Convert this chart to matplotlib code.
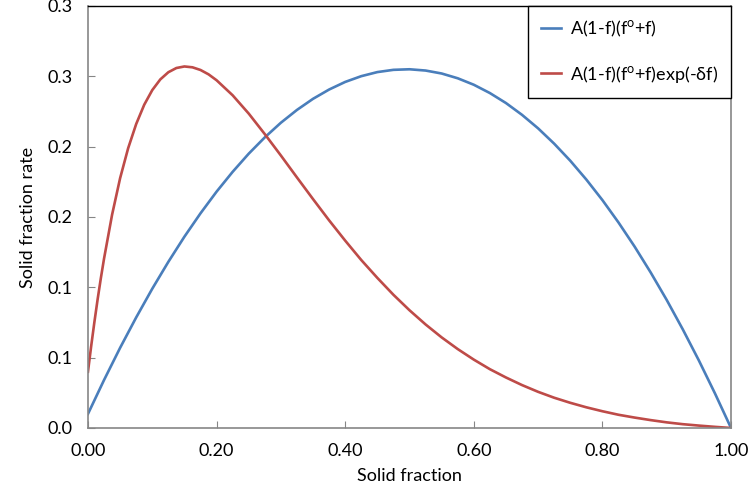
import matplotlib
matplotlib.use("Agg")
import matplotlib.pyplot as plt

# valores
fraccion_azul = [0.000, 0.025, 0.050, 0.075, 0.100, 0.125, 0.150, 0.175, 0.200, 0.225,
                 0.250, 0.275, 0.300, 0.325, 0.350, 0.375, 0.400, 0.425, 0.450, 0.475,
                 0.500, 0.525, 0.550, 0.575, 0.600, 0.625, 0.650, 0.675, 0.700, 0.725,
                 0.750, 0.775, 0.800, 0.825, 0.850, 0.875, 0.900, 0.925, 0.950, 0.975,
                 1.000]
tasa_azul = [0.0100, 0.0341, 0.0570, 0.0786, 0.0990, 0.1181, 0.1360, 0.1526, 0.1680, 0.1821,
             0.1950, 0.2066, 0.2170, 0.2261, 0.2340, 0.2406, 0.2460, 0.2501, 0.2530, 0.2546,
             0.2550, 0.2541, 0.2520, 0.2486, 0.2440, 0.2381, 0.2310, 0.2226, 0.2130, 0.2021,
             0.1900, 0.1766, 0.1620, 0.1461, 0.1290, 0.1106, 0.0910, 0.0701, 0.0480, 0.0246,
             0.0000]

fraccion_roja = [0.000, 0.005, 0.010, 0.015, 0.020, 0.025, 0.0375, 0.050, 0.0625, 0.075,
                 0.0875, 0.100, 0.1125, 0.125, 0.1375, 0.150, 0.1625, 0.175, 0.1875, 0.200,
                 0.225, 0.250, 0.275, 0.300, 0.325, 0.350, 0.375, 0.400, 0.425, 0.450,
                 0.475, 0.500, 0.525, 0.550, 0.575, 0.600, 0.625, 0.650, 0.675, 0.700,
                 0.725, 0.750, 0.775, 0.800, 0.825, 0.850, 0.875, 0.900, 0.925, 0.950,
                 0.975, 1.000]
tasa_roja = [0.0400, 0.0582, 0.0753, 0.0914, 0.1064, 0.1204, 0.1516, 0.1776, 0.1989, 0.2161,
             0.2298, 0.2402, 0.2478, 0.2529, 0.2559, 0.2570, 0.2564, 0.2545, 0.2514, 0.2472,
             0.2365, 0.2235, 0.2089, 0.1937, 0.1781, 0.1627, 0.1476, 0.1332, 0.1194, 0.1067,
             0.0947, 0.0837, 0.0736, 0.0644, 0.0561, 0.0486, 0.0418, 0.0359, 0.0305, 0.0257,
             0.0215, 0.0179, 0.0147, 0.0119, 0.0094, 0.0074, 0.0056, 0.0040, 0.0027, 0.0017,
             0.0008, 0.0000]

etiquetas_series = [r"A(1-f)(f$^{\mathrm{o}}$+f)", r"A(1-f)(f$^{\mathrm{o}}$+f)exp(-δf)"]

ticks_x = [0.0, 0.2, 0.4, 0.6, 0.8, 1.0]
etiquetas_x = ["0.00", "0.20", "0.40", "0.60", "0.80", "1.00"]
ticks_y = [0.0, 0.05, 0.10, 0.15, 0.20, 0.25, 0.30]
etiquetas_y = ["0.0", "0.1", "0.1", "0.2", "0.2", "0.3", "0.3"]

plt.rcParams['font.family'] = ['Lato', 'DejaVu Sans']
plt.rcParams['mathtext.fontset'] = 'custom'
plt.rcParams['mathtext.rm'] = 'Lato'

gris = '#868686'
azul = '#4A7EBB'
rojo = '#BE4B48'

fig = plt.figure(figsize=(7.48, 4.98), dpi=100)
ax = fig.add_axes([0.1176, 0.1406, 0.8597, 0.8474])

ax.plot(fraccion_azul, tasa_azul, color=azul, lw=1.9, label=etiquetas_series[0])
ax.plot(fraccion_roja, tasa_roja, color=rojo, lw=1.9, label=etiquetas_series[1])

ax.set_xlim(0, 1)
ax.set_ylim(0, 0.3)
ax.set_xticks(ticks_x)
ax.set_xticklabels(etiquetas_x)
ax.set_yticks(ticks_y)
ax.set_yticklabels(etiquetas_y)
ax.tick_params(direction='in', length=5, color=gris, labelsize=13, pad=11)

for lado in ['left', 'bottom', 'right']:
    ax.spines[lado].set_color(gris)
    ax.spines[lado].set_linewidth(1.2)
ax.spines['top'].set_color('black')
ax.spines['top'].set_linewidth(1.0)

ax.set_xlabel("Solid fraction", fontsize=13, labelpad=6)
ax.set_ylabel("Solid fraction rate", fontsize=13, labelpad=8)

leyenda = ax.legend(loc='upper right', bbox_to_anchor=(1.0, 1.0),
                    borderaxespad=0, fontsize=13, frameon=True,
                    fancybox=False, edgecolor='black', framealpha=1,
                    handlelength=1.1, handletextpad=0.5, labelspacing=1.36,
                    borderpad=0.72)
leyenda.get_frame().set_linewidth(1.0)

fig.savefig("out.png", dpi=100)
